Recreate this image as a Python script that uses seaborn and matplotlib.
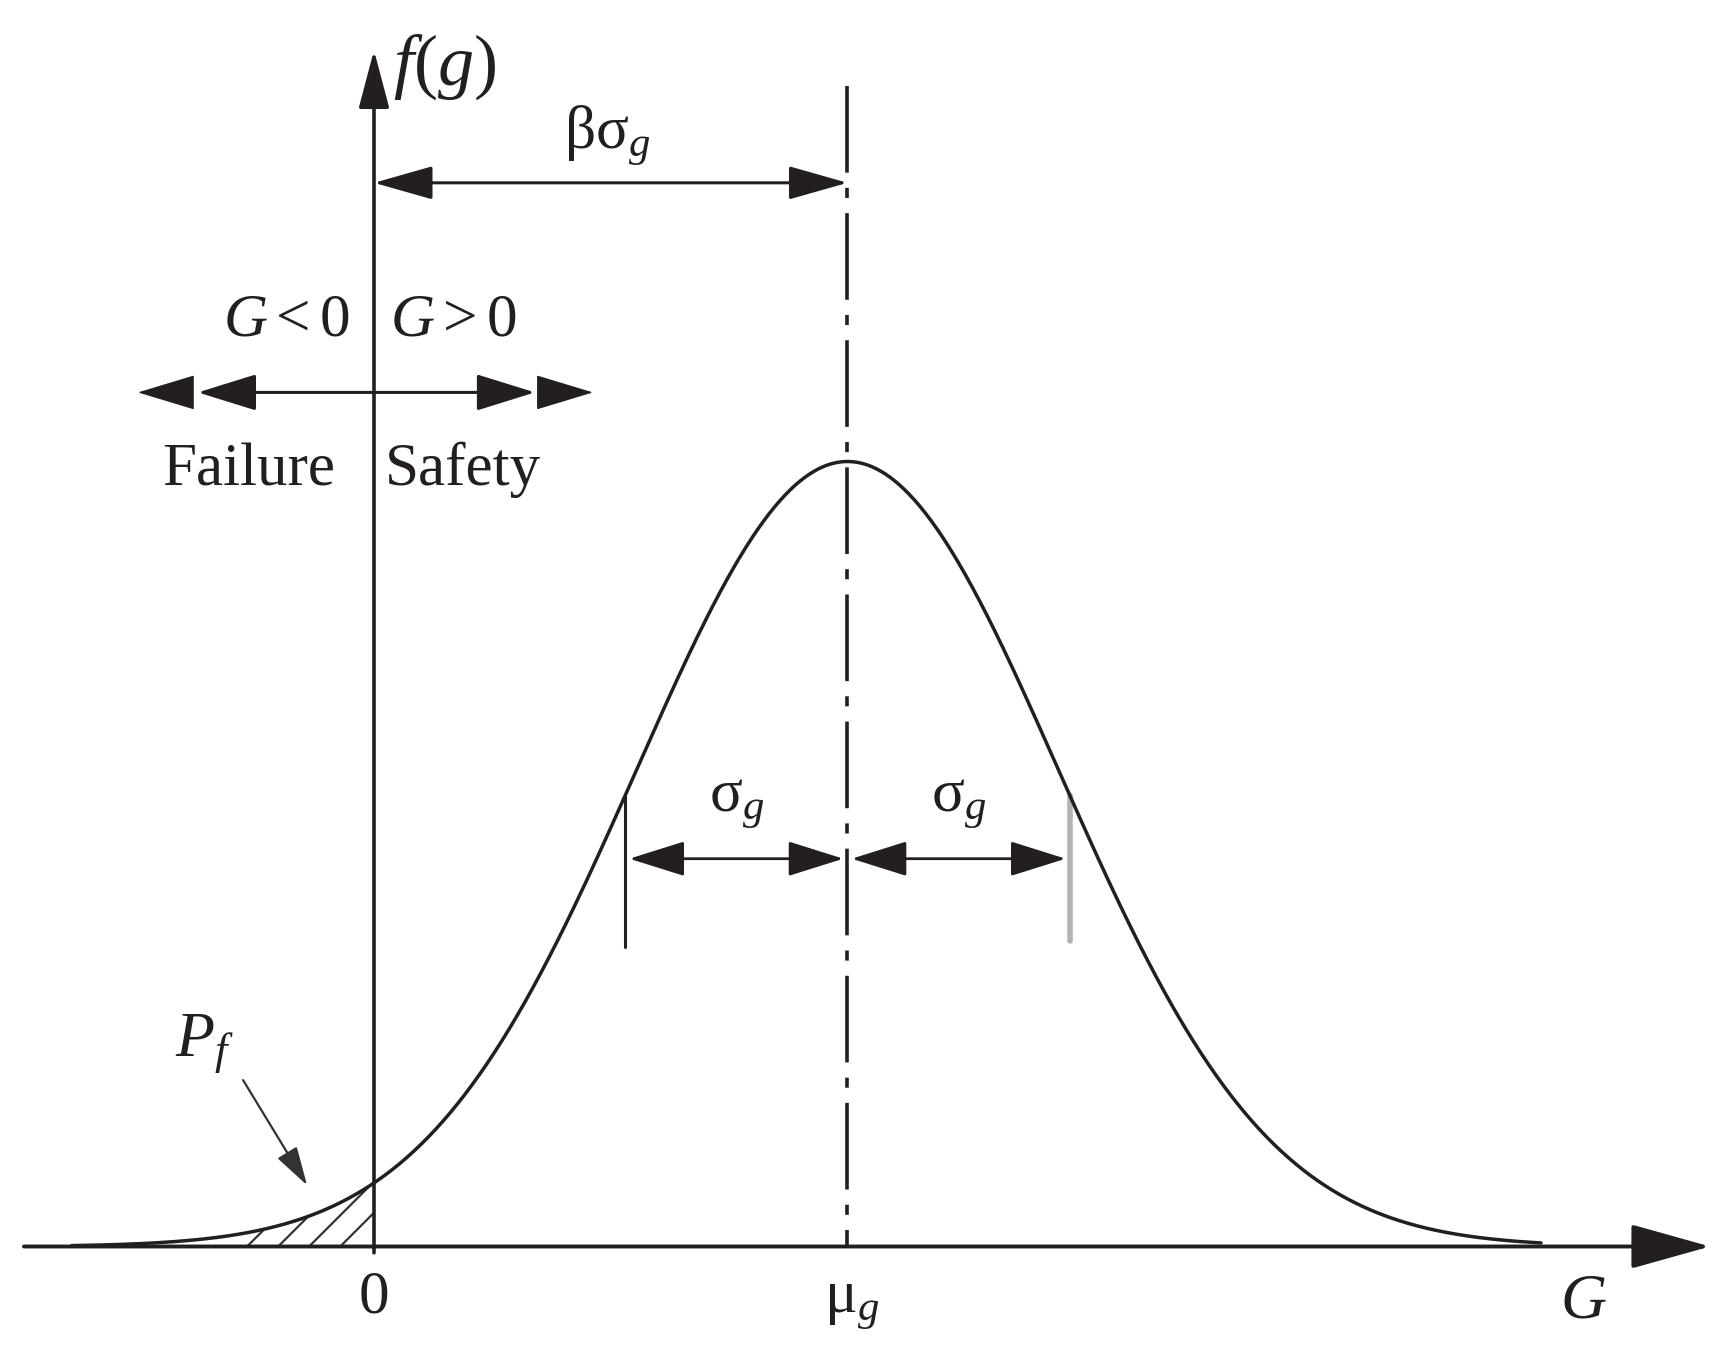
import numpy as np
import pandas as pd
import matplotlib
matplotlib.use('Agg')
import matplotlib.pyplot as plt
import seaborn as sns
from matplotlib.patches import Polygon

# values: x in units of sigma_g (0 = limit state), y relative to the peak
mu_g = 2.13
sigma_g = 1.0
curve_sd = 0.95
peak = 1.0
curve_range = [-1.36, 5.25]
hatch_starts = [-0.571, -0.431, -0.292, -0.152]

region_labels = [r'$G < 0$', r'$G > 0$']
side_labels = ['Failure', 'Safety']
bottom_labels = ['0', r'$\mathrm{\mu}_g$', r'$G$']

ink = '#231f20'
px_x, px_y = 222.3, 785.0   # pixels per data unit

sns.set_theme(style='white')
plt.rcParams['font.family'] = ['Liberation Serif', 'DejaVu Serif']
plt.rcParams['mathtext.fontset'] = 'custom'
plt.rcParams['mathtext.rm'] = 'Liberation Serif'
plt.rcParams['mathtext.it'] = 'Liberation Serif:italic'
plt.rcParams['mathtext.bf'] = 'Liberation Serif:bold'
plt.rcParams['text.color'] = ink

fig = plt.figure(figsize=(17.28, 13.46), dpi=100)
ax = fig.add_axes([0, 0, 1, 1])
ax.set_xlim(-374 / px_x, (1728 - 374) / px_x)
ax.set_ylim(-99.5 / px_y, 1246.5 / px_y)
ax.axis('off')


def pdf(x):
    return peak * np.exp(-0.5 * ((x - mu_g) / curve_sd) ** 2)


def arrow(start, end, style, lw=2.2, color=ink, shrink=0):
    ax.annotate('', xy=end, xytext=start,
                arrowprops=dict(arrowstyle=style, color=color, lw=lw,
                                shrinkA=shrink, shrinkB=shrink, mutation_scale=1))


# density curve
xs = np.linspace(curve_range[0], curve_range[1], 800)
df = pd.DataFrame({'G': xs, 'f': pdf(xs)})
sns.lineplot(data=df, x='G', y='f', ax=ax, color=ink, lw=2.5, zorder=3)

# axes
arrow((-1.575, 0), (6.01, 0), '-|>,head_length=50,head_width=14', lw=2.8)
arrow((0, -0.008), (0, 1.524), '-|>,head_length=36,head_width=9.5', lw=2.6)

# P_f hatching under the left tail
xf = df.loc[df['G'] <= 0, 'G'].to_numpy()
yf = df.loc[df['G'] <= 0, 'f'].to_numpy()
verts = np.column_stack([np.r_[xf, xf[::-1]], np.r_[yf, np.zeros_like(yf)]])
clip = Polygon(verts, closed=True, fc='none', ec='none', transform=ax.transData)
ax.add_patch(clip)
for x0 in hatch_starts:
    ln, = ax.plot([x0, x0 + 1.0], [0, px_x / px_y], color='#333333', lw=1.6)
    ln.set_clip_path(clip)

# mean line
ax.plot([mu_g, mu_g], [1.478, 0], color=ink, lw=2.6,
        ls=(0, (24, 4.2, 2.8, 4.2)))

# beta sigma arrow
arrow((0, 1.355), (mu_g, 1.355), '<|-|>,head_length=37,head_width=10.5', lw=2.2)
ax.text(1.05, 1.399, r'$\mathrm{\beta\sigma}_g$', fontsize=44, ha='center', va='baseline')

# failure / safety arrows
y_fs = 1.088
arrow((0, y_fs), (-0.792, y_fs), '-|>,head_length=37,head_width=11.5', lw=2.2)
arrow((-0.823, y_fs), (-1.062, y_fs), '-|>,head_length=38,head_width=11.5', lw=1)
arrow((0, y_fs), (0.724, y_fs), '-|>,head_length=37,head_width=11.5', lw=2.2)
arrow((0.747, y_fs), (0.985, y_fs), '-|>,head_length=38,head_width=11.5', lw=1)
ax.text(-0.108, 1.161, region_labels[0], fontsize=44, ha='right', va='baseline')
ax.text(0.072, 1.161, region_labels[1], fontsize=44, ha='left', va='baseline')
ax.text(-0.175, 0.970, side_labels[0], fontsize=44, ha='right', va='baseline')
ax.text(0.049, 0.970, side_labels[1], fontsize=44, ha='left', va='baseline')

# sigma markers
ax.plot([mu_g - sigma_g] * 2, [0.381, pdf(mu_g - sigma_g)], color=ink, lw=2.2)
ax.plot([mu_g + sigma_g] * 2, [0.389, pdf(mu_g + sigma_g)], color='#b3b3b3', lw=4)
y_s = 0.494
arrow((mu_g - sigma_g, y_s), (mu_g, y_s), '<|-|>,head_length=35,head_width=11', lw=2.0, shrink=3)
arrow((mu_g, y_s), (mu_g + sigma_g, y_s), '<|-|>,head_length=35,head_width=11', lw=2.0, shrink=3)
for sx in [mu_g - sigma_g / 2, mu_g + sigma_g / 2]:
    ax.text(sx, 0.554, r'$\mathrm{\sigma}_g$', fontsize=44, ha='center', va='baseline')

# P_f label
ax.text(-0.895, 0.244, r'$P_f$', fontsize=46, ha='left', va='baseline')
arrow((-0.589, 0.212), (-0.301, 0.078), '-|>,head_length=24,head_width=7', lw=1.6, color='#333333')

# axis labels
ax.text(0.085, 1.480, r'$f(g)$', fontsize=52, ha='left', va='baseline')
ax.text(0, -0.0847, bottom_labels[0], fontsize=44, ha='center', va='baseline')
ax.text(mu_g + 0.02, -0.0847, bottom_labels[1], fontsize=44, ha='center', va='baseline')
ax.text(5.44, -0.09, bottom_labels[2], fontsize=46, ha='center', va='baseline')

fig.savefig('out.png', dpi=100)
